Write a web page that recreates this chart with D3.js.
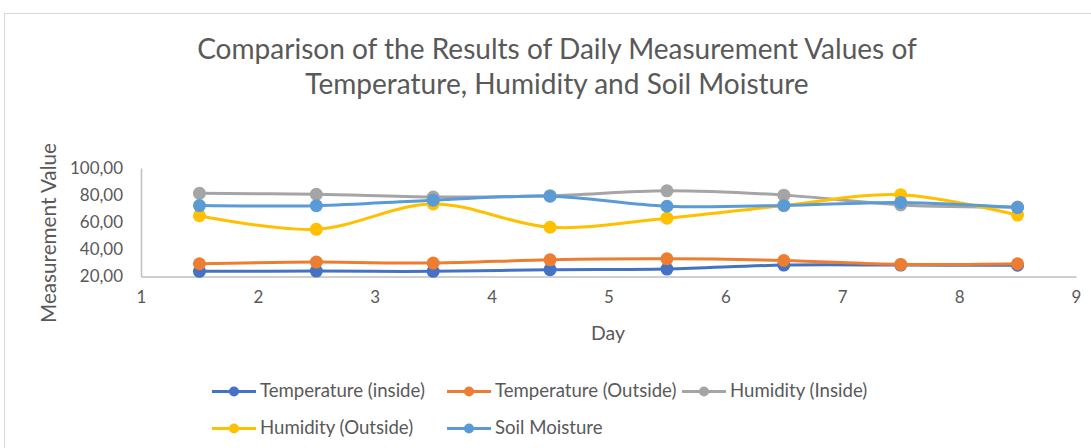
<!DOCTYPE html>
<html>
<head>
<meta charset="utf-8">
<script src="https://cdn.jsdelivr.net/npm/d3@7/dist/d3.min.js"></script>
<style>
  html, body { margin: 0; padding: 0; background: #fff; }
  svg { display: block; }
  text { font-family: Lato, "Open Sans", sans-serif; fill: #595959; }
</style>
</head>
<body>
<svg id="chart" width="1091" height="448"></svg>
<script>
// ---- data ----
const days = [1.5, 2.5, 3.5, 4.5, 5.5, 6.5, 7.5, 8.5];
const temperatureInside  = [23.8, 24.0, 23.8, 25.0, 25.5, 28.4, 28.4, 28.3];
const temperatureOutside = [29.4, 30.6, 29.9, 32.3, 33.0, 31.8, 28.9, 29.4];
const humidityInside     = [81.3, 80.6, 78.6, 79.5, 83.2, 80.0, 72.8, 71.2];
const humidityOutside    = [64.8, 54.8, 73.5, 56.3, 63.0, 72.3, 80.3, 65.3];
const soilMoisture       = [72.3, 72.2, 76.3, 79.2, 71.8, 72.4, 74.6, 70.8];
const seriesNames = ["Temperature (inside)", "Temperature (Outside)", "Humidity (Inside)", "Humidity (Outside)", "Soil Moisture"];
const seriesValues = [temperatureInside, temperatureOutside, humidityInside, humidityOutside, soilMoisture];
const seriesColors = ["#4472C4", "#ED7D31", "#A5A5A5", "#FFC000", "#5B9BD5"];
const xTicks = [1, 2, 3, 4, 5, 6, 7, 8, 9];
const yTicks = [20, 40, 60, 80, 100];
const titleLines = ["Comparison of the Results of Daily Measurement Values of", "Temperature, Humidity and Soil Moisture"];
const xTitle = "Day";
const yTitle = "Measurement Value";

// ---- layout ----
const svg = d3.select("#chart");
const plotLeft = 141, plotRight = 1076, plotTop = 168, plotBottom = 276.5;

const x = d3.scaleLinear().domain([1, 9]).range([plotLeft, plotRight]);
const y = d3.scaleLinear().domain([20, 100]).range([plotBottom, plotTop]);

function fit(sel, target, base) {
  sel.style("font-size", base + "px");
  const w = sel.node().getComputedTextLength();
  const s = base * target / w;
  sel.style("font-size", s + "px");
  return s;
}

// chart area border
svg.append("rect")
  .attr("x", 4.5).attr("y", 13.5)
  .attr("width", 1200).attr("height", 600)
  .attr("fill", "none").attr("stroke", "#D9D9D9").attr("stroke-width", 1);

// title
const t1 = svg.append("text").attr("x", 557).attr("y", 59).attr("text-anchor", "middle")
  .text(titleLines[0]);
fit(t1, 720, 24);
const t2 = svg.append("text").attr("x", 557).attr("y", 94).attr("text-anchor", "middle")
  .text(titleLines[1]);
t2.style("font-size", t1.style("font-size"));

// axes
const fmt = d3.formatLocale({decimal: ",", thousands: ".", grouping: [3], currency: ["", ""]}).format(".2f");

const yAxis = svg.append("g")
  .attr("transform", `translate(${plotLeft},0)`)
  .call(d3.axisLeft(y).tickValues(yTicks).tickFormat(fmt).tickSize(0).tickPadding(18));
yAxis.select(".domain").attr("stroke", "#BFBFBF").attr("stroke-width", 1.5);
yAxis.selectAll("text").style("fill", "#595959").style("font-family", "Lato, sans-serif");
const tickSize = fit(yAxis.selectAll("text").filter(d => d === 100), 53, 16);
yAxis.selectAll("text").style("font-size", tickSize + "px");

const xAxis = svg.append("g")
  .attr("transform", `translate(0,${plotBottom})`)
  .call(d3.axisBottom(x).tickValues(xTicks).tickFormat(d3.format("d")).tickSize(0).tickPadding(14));
xAxis.select(".domain").attr("stroke", "#BFBFBF").attr("stroke-width", 1.5);
xAxis.selectAll("text").style("font-size", tickSize + "px").style("fill", "#595959").style("font-family", "Lato, sans-serif");

// axis titles
const xt = svg.append("text").attr("x", 608).attr("y", 340).attr("text-anchor", "middle").text(xTitle);
fit(xt, 34, 17);
const yt = svg.append("text")
  .attr("transform", "translate(56,233) rotate(-90)")
  .attr("text-anchor", "middle").text(yTitle);
fit(yt, 180, 17);

// series
const line = d3.line().x((d, i) => x(days[i])).y(d => y(d)).curve(d3.curveCatmullRom.alpha(0));
seriesValues.forEach((vals, si) => {
  const g = svg.append("g");
  g.append("path").datum(vals)
    .attr("d", line)
    .attr("fill", "none")
    .attr("stroke", seriesColors[si])
    .attr("stroke-width", 3)
    .attr("stroke-linejoin", "round");
  g.selectAll("circle").data(vals).join("circle")
    .attr("cx", (d, i) => x(days[i]))
    .attr("cy", d => y(d))
    .attr("r", 6.5)
    .attr("fill", seriesColors[si]);
});

// legend
const legendPos = [[212, 391.5], [447, 391.5], [682, 391.5], [212, 428.5], [447, 428.5]];
let legendFont = null;
seriesNames.forEach((name, i) => {
  const [lx, ly] = legendPos[i];
  const g = svg.append("g").attr("transform", `translate(${lx},${ly})`);
  g.append("line").attr("x1", 0).attr("x2", 44).attr("y1", 0).attr("y2", 0)
    .attr("stroke", seriesColors[i]).attr("stroke-width", 3);
  g.append("circle").attr("cx", 22).attr("cy", 0).attr("r", 5).attr("fill", seriesColors[i]);
  const t = g.append("text").attr("x", 48).attr("y", 5.5).text(name);
  if (i === 0) { fit(t, 165, 16); legendFont = t.style("font-size"); }
  else t.style("font-size", legendFont);
});
</script>
</body>
</html>
